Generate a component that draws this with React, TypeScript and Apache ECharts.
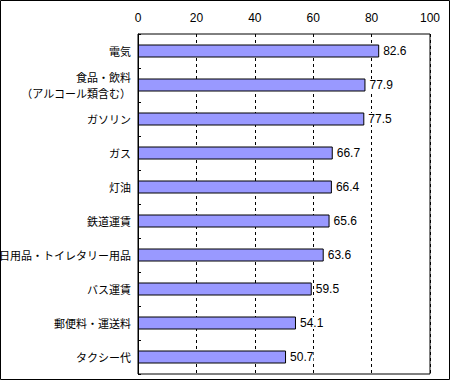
import React, { useEffect, useRef } from "react";
import * as echarts from "echarts";

const categories = [
  "電気",
  "食品・飲料\n（アルコール類含む）",
  "ガソリン",
  "ガス",
  "灯油",
  "鉄道運賃",
  "日用品・トイレタリー用品",
  "バス運賃",
  "郵便料・運送料",
  "タクシー代",
];
const values = [82.6, 77.9, 77.5, 66.7, 66.4, 65.6, 63.6, 59.5, 54.1, 50.7];
const xTicks = [0, 20, 40, 60, 80, 100];

export default function App() {
  const ref = useRef<HTMLDivElement>(null);
  useEffect(() => {
    document.body.style.margin = "0";
    const chart = echarts.init(ref.current!, null, { renderer: "svg" });
    chart.setOption({
      animation: false,
      backgroundColor: "#fff",
      grid: {
        left: 138,
        top: 34,
        width: 292,
        height: 340,
        containLabel: false,
        outerBoundsMode: "none",
        show: true,
        borderColor: "#000",
        borderWidth: 1,
        backgroundColor: "transparent",
      },
      xAxis: {
        type: "value",
        position: "top",
        min: xTicks[0],
        max: xTicks[xTicks.length - 1],
        interval: 20,
        axisLine: { show: false },
        axisTick: { show: false },
        axisLabel: {
          color: "#000",
          fontSize: 12,
          fontFamily: "Liberation Sans, Arial, sans-serif",
          margin: 10,
        },
        splitLine: {
          show: true,
          lineStyle: { color: "#000", type: [3, 3], width: 1 },
        },
      },
      yAxis: {
        type: "category",
        data: categories,
        inverse: true,
        axisLine: { show: true, lineStyle: { color: "#000" } },
        axisTick: { show: true, inside: true, length: 3, lineStyle: { color: "#000" } },
        axisLabel: {
          color: "#000",
          fontSize: 11,
          fontFamily: "Noto Sans CJK JP, sans-serif",
          margin: 7,
          lineHeight: 16,
        },
        splitLine: { show: false },
      },
      series: [
        {
          type: "bar",
          data: values,
          barWidth: 13,
          itemStyle: { color: "#9999FF", borderColor: "#000", borderWidth: 1 },
          label: {
            show: true,
            position: "right",
            distance: 3,
            color: "#000",
            backgroundColor: "#fff",
            padding: [0, 0, 0, 1],
            fontSize: 12,
            fontFamily: "Liberation Sans, Arial, sans-serif",
            formatter: (p: any) => p.value.toFixed(1),
          },
        },
      ],
      graphic: [
        {
          type: "rect",
          shape: { x: 0.5, y: 0.5, width: 449, height: 379 },
          style: { fill: "none", stroke: "#000", lineWidth: 1 },
          silent: true,
        },
      ],
    });
    return () => chart.dispose();
  }, []);
  return <div ref={ref} style={{ width: 450, height: 380 }} />;
}
